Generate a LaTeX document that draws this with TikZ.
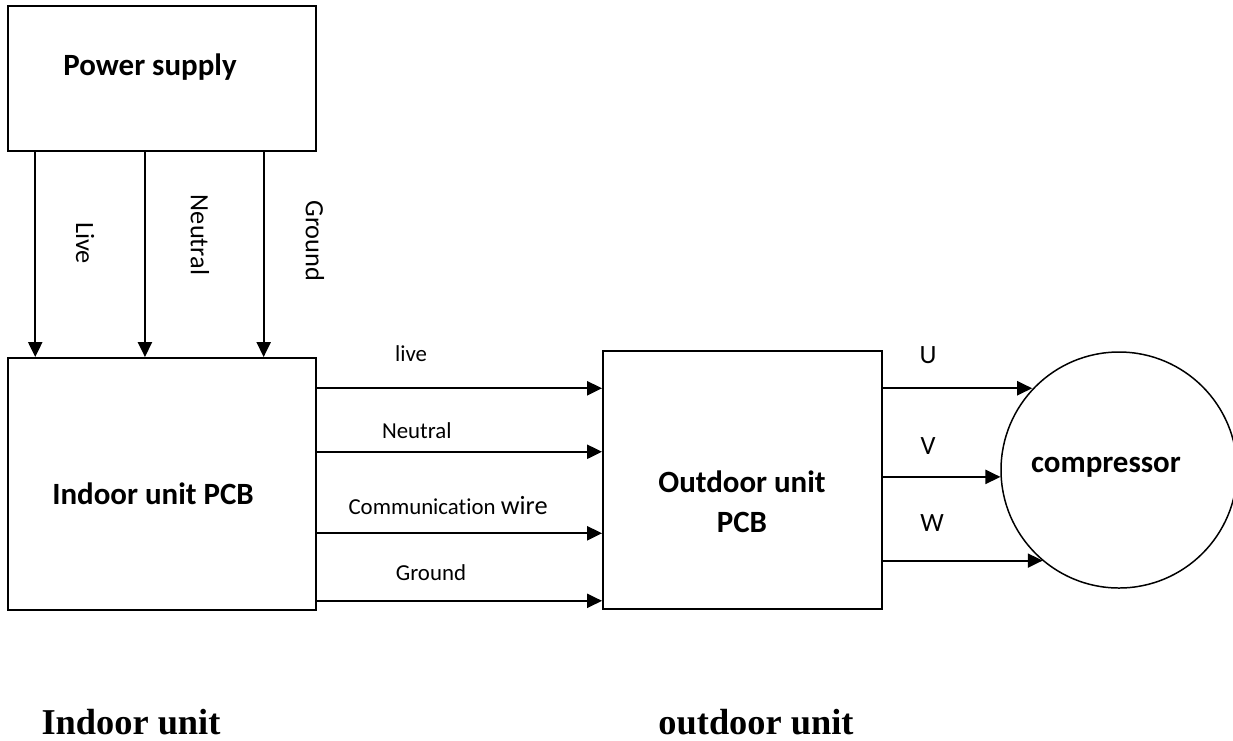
\documentclass[tikz,border=0pt]{standalone}
\usepackage{fontspec}
\setmainfont{Carlito}[Ligatures=NoCommon]
\newfontfamily\timesfont{Liberation Serif}
\usepackage{tikz}
\usetikzlibrary{positioning, arrows.meta, calc}
\tikzset{
    box/.style = {rectangle, draw=black, line width=1.1pt, inner sep=0pt},
    boxtext/.style = {font=\bfseries\fontsize{17.6}{23}\selectfont, align=center},
    wirelabel/.style = {font=\fontsize{13}{15}\selectfont},
    phaselabel/.style = {font=\fontsize{15}{17}\selectfont},
    sidelabel/.style = {font=\fontsize{15}{17}\selectfont, rotate=-90},
    arrow/.style = {-{Triangle[length=8.5pt, width=8pt]}, line width=1.1pt, color=black},
    unitlabel/.style = {font=\timesfont\bfseries\fontsize{20.7}{24}\selectfont},
}

\begin{document}
\begin{tikzpicture}
        \useasboundingbox (0,0) rectangle (24.66,-14.8);
        % Boxes
        \node[box, minimum width=6.16cm, minimum height=2.9cm] (psu) at (3.24,-1.57) {};
        \node[box, minimum width=6.16cm, minimum height=5.04cm] (indoor) at (3.24,-9.68) {};
        \node[box, minimum width=5.58cm, minimum height=5.16cm] (outdoor) at (14.85,-9.6) {};
        \node[circle, draw=black, line width=0.85pt, minimum size=4.72cm, inner sep=0pt] (comp) at (22.38,-9.4) {};
        % Box texts
        \node[boxtext] (psutext) at (3.0,-1.34) {Power supply};
        \node[boxtext] (indoortext) at (3.06,-9.88) {Indoor unit PCB};
        \node[boxtext] (outdoortext) at (14.84,-10.04) {Outdoor unit\\PCB};
        \node[boxtext] (comptext) at (22.12,-9.34) {compressor};
        % Mains into indoor unit
        \draw[arrow] ($(psu.south west)!.091!(psu.south east)$) -- ($(indoor.north west)!.091!(indoor.north east)$);
        \draw[arrow] ($(psu.south west)!.445!(psu.south east)$) -- ($(indoor.north west)!.445!(indoor.north east)$);
        \draw[arrow] ($(psu.south west)!.828!(psu.south east)$) -- ($(indoor.north west)!.828!(indoor.north east)$);
        \node[sidelabel] (livev) at (1.7,-4.86) {Live};
        \node[sidelabel] (neutralv) at (4.0,-4.7) {Neutral};
        \node[sidelabel] (groundv) at (6.3,-4.82) {Ground};
        % Indoor to outdoor
        \draw[arrow] ($(indoor.north east)!.123!(indoor.south east)$) coordinate (l1) -- (l1 -| outdoor.west)
              node[wirelabel, pos=.33, yshift=.7cm] (livew) {live};
        \draw[arrow] ($(indoor.north east)!.373!(indoor.south east)$) coordinate (l2) -- (l2 -| outdoor.west)
              node[wirelabel, pos=.35, yshift=.42cm] (neutralw) {Neutral};
        \draw[arrow] ($(indoor.north east)!.694!(indoor.south east)$) coordinate (l3) -- (l3 -| outdoor.west)
              node[wirelabel, pos=.46, yshift=.56cm] (commw) {Communication {\fontsize{15}{17}\selectfont wire}};
        \draw[arrow] ($(indoor.north east)!.960!(indoor.south east)$) coordinate (l4) -- (l4 -| outdoor.west)
              node[wirelabel, pos=.40, yshift=.56cm] (groundw) {Ground};
        % Motor phases
        \draw[arrow] ($(outdoor.north east)!.147!(outdoor.south east)$) coordinate (p1) -- (p1 -| comp.137);
        \draw[arrow] ($(outdoor.north east)!.488!(outdoor.south east)$) coordinate (p2) -- (p2 -| comp.183);
        \draw[arrow] ($(outdoor.north east)!.810!(outdoor.south east)$) coordinate (p3) -- (p3 -| comp.230);
        \node[phaselabel] (phu) at (18.56,-7.1) {U};
        \node[phaselabel] (phv) at (18.56,-8.92) {V};
        \node[phaselabel] (phw) at (18.64,-10.46) {W};
        % Unit captions
        \node[unitlabel] (incap) at (2.62,-14.44) {Indoor unit};
        \node[unitlabel] (outcap) at (15.12,-14.44) {outdoor unit};
      \end{tikzpicture}
\end{document}
